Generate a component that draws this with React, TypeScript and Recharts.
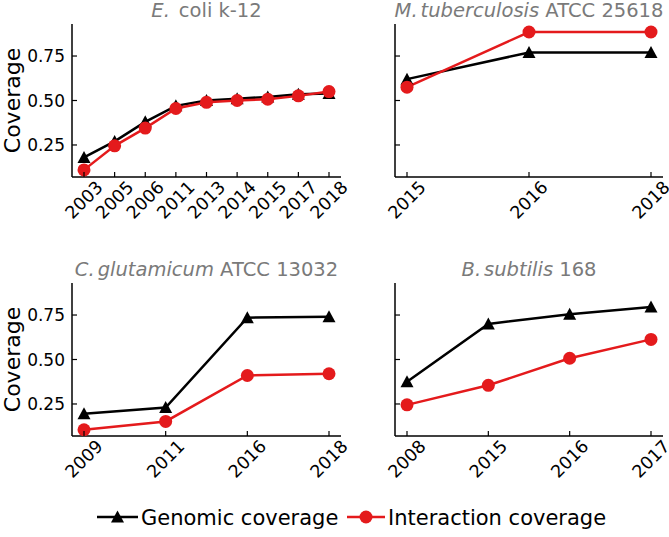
import React from 'react'
import { LineChart, Line, XAxis, YAxis } from 'recharts'

// E. coli k-12
const years1 = ['2003', '2005', '2006', '2011', '2013', '2014', '2015', '2017', '2018']
const genomic1 = [0.18, 0.27, 0.38, 0.47, 0.5, 0.51, 0.52, 0.535, 0.54]
const interaction1 = [0.11, 0.245, 0.345, 0.455, 0.49, 0.5, 0.507, 0.526, 0.55]

// M. tuberculosis ATCC 25618
const years2 = ['2015', '2016', '2018']
const genomic2 = [0.62, 0.77, 0.77]
const interaction2 = [0.575, 0.885, 0.885]

// C. glutamicum ATCC 13032
const years3 = ['2009', '2011', '2016', '2018']
const genomic3 = [0.195, 0.23, 0.735, 0.74]
const interaction3 = [0.105, 0.152, 0.41, 0.42]

// B. subtilis 168
const years4 = ['2008', '2015', '2016', '2017']
const genomic4 = [0.375, 0.7, 0.755, 0.795]
const interaction4 = [0.245, 0.355, 0.507, 0.613]

const yTicks = [0.25, 0.5, 0.75]

const FONT = 'DejaVu Sans'
const RED = '#e41a1c'
const GREY = '#7a7a7a'

function triangle(props: any) {
  const { cx, cy, index } = props
  if (cx == null || cy == null) return <g key={`t-${index}`} />
  return (
    <polygon
      key={`t-${index}`}
      points={`${cx},${cy - 6.5} ${cx - 6.5},${cy + 5.5} ${cx + 6.5},${cy + 5.5}`}
      fill="#000"
    />
  )
}

function circle(props: any) {
  const { cx, cy, index } = props
  if (cx == null || cy == null) return <g key={`c-${index}`} />
  return <circle key={`c-${index}`} cx={cx} cy={cy} r={6.5} fill={RED} />
}

// x tick: inward tick mark plus a 45° label centred under it
function XTick({ x, y, payload }: any) {
  return (
    <g>
      <line x1={x} y1={y} x2={x} y2={y - 5} stroke="#000" strokeWidth={1.2} />
      <text
        transform={`translate(${x},${y + 23}) rotate(-45)`}
        textAnchor="middle"
        dominantBaseline="central"
        fontSize={17.5}
        fontFamily={FONT}
        fill="#000"
      >
        {payload.value}
      </text>
    </g>
  )
}

function YTick({ x, y, payload, showLabel }: any) {
  return (
    <g>
      <line x1={x} y1={y} x2={x + 5} y2={y} stroke="#000" strokeWidth={1.2} />
      {showLabel && (
        <text x={x - 7} y={y} textAnchor="end" dominantBaseline="central" fontSize={17} fontFamily={FONT} fill="#000">
          {Number(payload.value).toFixed(2)}
        </text>
      )}
    </g>
  )
}

function YLabel({ viewBox }: any) {
  const cy = viewBox.y + viewBox.height / 2
  return (
    <text
      transform={`translate(12,${cy}) rotate(-90)`}
      textAnchor="middle"
      dominantBaseline="central"
      fontSize={22}
      fontFamily={FONT}
      fill="#000"
    >
      Coverage
    </text>
  )
}

interface PanelProps {
  years: string[]
  genomic: number[]
  interaction: number[]
  left: number
  top: number
  width: number
  height: number
  marginTop: number
  marginRight: number
  yWidth: number
  showY: boolean
}

function Panel({ years, genomic, interaction, left, top, width, height, marginTop, marginRight, yWidth, showY }: PanelProps) {
  const data = years.map((y, i) => ({ year: y, genomic: genomic[i], interaction: interaction[i] }))
  const axisLine = { stroke: '#000', strokeWidth: 1.5 }
  return (
    <div style={{ position: 'absolute', left, top }}>
      <LineChart width={width} height={height} data={data} margin={{ top: marginTop, right: marginRight, left: 0, bottom: 0 }}>
        <XAxis
          dataKey="year"
          padding={{ left: 12, right: 12 }}
          height={63}
          interval={0}
          tickSize={0}
          tickMargin={0}
          tickLine={false}
          axisLine={axisLine}
          tick={<XTick />}
        />
        <XAxis xAxisId="top" orientation="top" dataKey="year" height={0} tick={false} tickLine={false} axisLine={axisLine} />
        <YAxis
          domain={[0.07, 0.93]}
          ticks={yTicks}
          allowDataOverflow
          width={yWidth}
          tickSize={0}
          tickMargin={0}
          tickLine={false}
          axisLine={axisLine}
          tick={<YTick showLabel={showY} />}
          label={showY ? { content: <YLabel /> } : undefined}
        />
        <YAxis yAxisId="right" orientation="right" width={0} tick={false} tickLine={false} axisLine={axisLine} />
        <Line
          dataKey="genomic"
          stroke="#000"
          strokeWidth={2.5}
          dot={triangle}
          activeDot={false}
          isAnimationActive={false}
        />
        <Line
          dataKey="interaction"
          stroke={RED}
          strokeWidth={2.5}
          dot={circle}
          activeDot={false}
          isAnimationActive={false}
        />
      </LineChart>
    </div>
  )
}

function Overlay() {
  const t = { fontSize: 19.5, fontFamily: FONT, fill: GREY, textAnchor: 'middle' as const }
  return (
    <svg width={669} height={537} style={{ position: 'absolute', left: 0, top: 0, pointerEvents: 'none' }}>
      <text x={206.5} y={17} {...t}>
        <tspan fontStyle="italic">E.</tspan>
        <tspan dx={9}>coli k-12</tspan>
      </text>
      <text x={529} y={17} {...t}>
        <tspan fontStyle="italic">M.</tspan>
        <tspan dx={3} fontStyle="italic">tuberculosis</tspan>
        <tspan> ATCC 25618</tspan>
      </text>
      <text x={206.5} y={276} {...t}>
        <tspan fontStyle="italic">C.</tspan>
        <tspan dx={3} fontStyle="italic">glutamicum</tspan>
        <tspan> ATCC 13032</tspan>
      </text>
      <text x={529} y={276} {...t}>
        <tspan fontStyle="italic">B.</tspan>
        <tspan dx={3} fontStyle="italic">subtilis</tspan>
        <tspan> 168</tspan>
      </text>

      {/* legend */}
      <line x1={97} y1={517} x2={138} y2={517} stroke="#000" strokeWidth={2.5} />
      <polygon points="117.5,510.5 111,522.5 124,522.5" fill="#000" />
      <text x={141} y={524.5} fontSize={21} fontFamily={FONT} fill="#000">Genomic coverage</text>
      <line x1={347} y1={517} x2={385} y2={517} stroke={RED} strokeWidth={2.5} />
      <circle cx={366} cy={517} r={6.5} fill={RED} />
      <text x={388} y={524.5} fontSize={21} fontFamily={FONT} fill="#000">Interaction coverage</text>
    </svg>
  )
}

export default function App() {
  return (
    <div style={{ position: 'absolute', left: 0, top: 0, width: 669, height: 537, background: '#fff', fontFamily: FONT }}>
      <Panel years={years1} genomic={genomic1} interaction={interaction1} left={0} top={0} width={365} height={240} marginTop={24} marginRight={24} yWidth={72} showY />
      <Panel years={years2} genomic={genomic2} interaction={interaction2} left={345} top={0} width={324} height={240} marginTop={24} marginRight={6} yWidth={50} showY={false} />
      <Panel years={years3} genomic={genomic3} interaction={interaction3} left={0} top={250} width={365} height={249} marginTop={33} marginRight={24} yWidth={72} showY />
      <Panel years={years4} genomic={genomic4} interaction={interaction4} left={345} top={250} width={324} height={249} marginTop={33} marginRight={6} yWidth={50} showY={false} />
      <Overlay />
    </div>
  )
}
